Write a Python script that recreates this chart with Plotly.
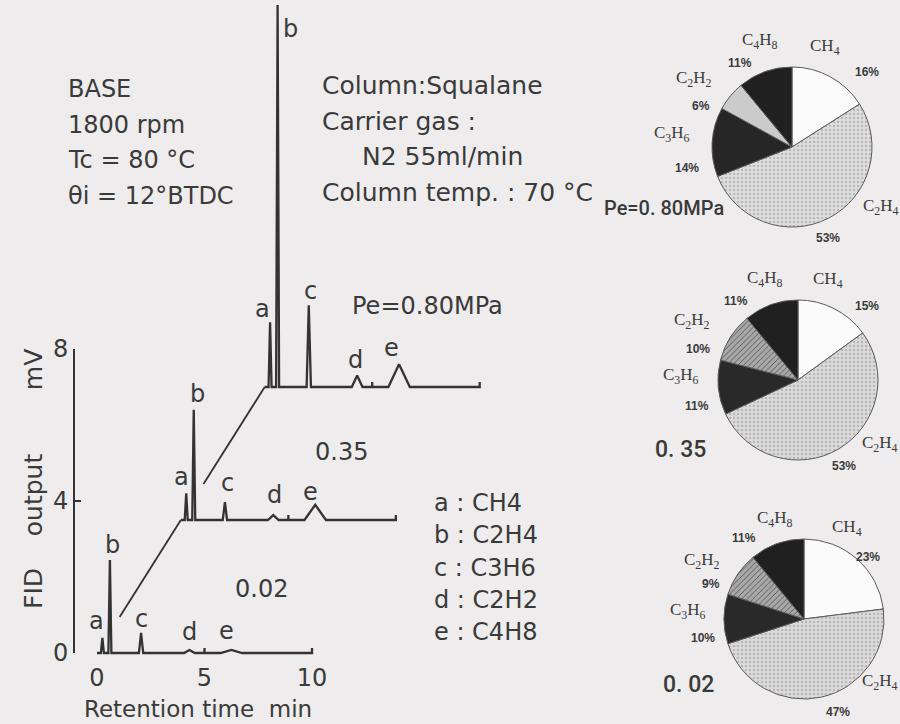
import re
import plotly.graph_objects as go

W, H = 900, 724

# ------------------------------------------------------------------ data
peak_names = ["a", "b", "c", "d", "e"]
peak_components = ["CH4", "C2H4", "C3H6", "C2H2", "C4H8"]
peak_times = [0.25, 0.6, 2.05, 4.3, 6.25]          # retention time, min
peak_halfwidths = [0.07, 0.07, 0.1, 0.25, 0.5]     # min
pressure_labels = ["0.02", "0.35", "Pe=0.80MPa"]
heights_002 = [0.4, 2.45, 0.53, 0.08, 0.08]        # FID output, mV
heights_035 = [0.7, 2.9, 0.47, 0.13, 0.4]
heights_080 = [1.7, 10.05, 2.15, 0.3, 0.6]
time_ticks = [0, 5, 10]
fid_ticks = [0, 4, 8]
baseline_marks = [5, 10]
run_end = 10

pie_labels = ["CH4", "C2H4", "C3H6", "C2H2", "C4H8"]
pie_080 = [16, 53, 14, 6, 11]
pie_035 = [15, 53, 11, 10, 11]
pie_002 = [23, 47, 10, 9, 11]
pie_titles = ["Pe=0. 80MPa", "0. 35", "0. 02"]

info_left = ["BASE", "1800 rpm", "Tc = 80 °C", "θi = 12°BTDC"]
info_right = ["Column:Squalane", "Carrier gas :", "N2 55ml/min", "Column temp. : 70 °C"]

# ------------------------------------------------------------------ layout constants
X0_PX, PX_PER_MIN = 97, 21.5
Y0_PX, PX_PER_MV = 653, 38.0
AX_LEFT_PX, AX_RIGHT_PX = 75, 640
DX, DY = 3.9, 3.5           # offset between stacked chromatograms (min, mV)
CONNECT_FRAC = 0.27         # visible part of the diagonal connectors
MARK_H = 0.13               # height of the small baseline marks (mV)
INK = "#333333"
TXT = "#3a3a3a"
BG = "#eeecec"
FONT = "DejaVu Sans"

def P(x, y):
    return x / W, 1 - y / H

def ptext(px_, py_, text, size, family=FONT, xanchor="center", weight=None, **kw):
    x, y = P(px_, py_)
    font = dict(family=family, size=size, color=TXT)
    if weight:
        font["weight"] = weight
    d = dict(x=x, y=y, xref="paper", yref="paper", text=text, showarrow=False,
             xanchor=xanchor, yanchor="middle", font=font)
    d.update(kw)
    return d

fig = go.Figure()

levels = [heights_002, heights_035, heights_080]
for i, heights in enumerate(levels):
    ox, oy = i * DX, i * DY
    events = []
    for t, w, h in zip(peak_times, peak_halfwidths, heights):
        events.append((t - w, [(t - w, 0), (t, h), (t + w, 0)]))
    for m in baseline_marks:
        events.append((m, [(m, 0), (m, MARK_H), (m, 0)] if m != run_end else [(m, 0), (m, MARK_H)]))
    events.sort(key=lambda e: e[0])
    xs, ys = [0 + ox], [0 + oy]
    for _, pts in events:
        for px_, py_ in pts:
            xs.append(px_ + ox)
            ys.append(py_ + oy)
    fig.add_trace(go.Scatter(x=xs, y=ys, mode="lines", line=dict(color=INK, width=2.3),
                             hoverinfo="skip", showlegend=False, xaxis="x", yaxis="y"))
    if i > 0:
        x1, y1 = ox, oy
        x0, y0 = (i - 1) * DX + CONNECT_FRAC * DX, (i - 1) * DY + CONNECT_FRAC * DY
        fig.add_trace(go.Scatter(x=[x0, x1], y=[y0, y1], mode="lines",
                                 line=dict(color=INK, width=1.8), hoverinfo="skip",
                                 showlegend=False, xaxis="x", yaxis="y"))

# placeholder so that the displayed FID axis exists
fig.add_trace(go.Scatter(x=[time_ticks[0]], y=[fid_ticks[0]], mode="markers",
                         marker=dict(opacity=0), hoverinfo="skip", showlegend=False,
                         xaxis="x", yaxis="y2"))

annotations = []

# peak letters (pixel shifts relative to each peak top)
LABEL_SHIFT = [
    [(-6, 17), (3, 15), (0, 14), (0, 18), (-5, 19)],
    [(-5, 16), (4, 16), (3, 19), (1, 20), (-5, 13)],
    [(-8, 13), (13, -24), (2, 14), (-2, 16), (-8, 16)],
]
for i, heights in enumerate(levels):
    for k, (name, t, h) in enumerate(zip(peak_names, peak_times, heights)):
        sx, sy = LABEL_SHIFT[i][k]
        annotations.append(dict(x=t + i * DX, y=h + i * DY, xref="x", yref="y", text=name,
                                showarrow=False, xshift=sx, yshift=sy,
                                xanchor="center", yanchor="middle",
                                font=dict(family=FONT, size=24, color=TXT)))

# pressure labels on chromatograms
for txt, pos in zip(pressure_labels, [(261, 589), (341, 452), (427, 306)]):
    annotations.append(ptext(*pos, txt, 24))

# peak legend
for k, (name, comp) in enumerate(zip(peak_names, peak_components)):
    annotations.append(ptext(432, 503 + 32.3 * k, f"{name} : {comp}", 24, xanchor="left"))

# info blocks
for k, s in enumerate(info_left):
    annotations.append(ptext(66, 89 + 35.7 * k, s, 24, xanchor="left"))
for k, s in enumerate(info_right):
    annotations.append(ptext(360 if k == 2 else 320, 86 + 35.5 * k, s, 25, xanchor="left"))

# axis titles
NB = "\u00a0"
annotations.append(ptext(33, 479, f"FID{NB*4}output{NB*8}mV", 25, textangle=-90))
annotations.append(ptext(198, 709, f"Retention time{NB*2}min", 23))

# ------------------------------------------------------------------ pies
PIE_R = 80
pie_centers = [(792, 147), (798, 380), (804, 619)]
pie_values = [pie_080, pie_035, pie_002]
pie_colors = [
    ["#fbfbfb", "#dcdcdc", "#262626", "#cbcbcb", "#202020"],
    ["#fbfbfb", "#d9d9d9", "#292929", "#a8a8a8", "#202020"],
    ["#fbfbfb", "#d9d9d9", "#292929", "#a8a8a8", "#202020"],
]
pie_shapes = [["", ".", "", "", ""], ["", ".", "", "/", ""], ["", ".", "", "/", ""]]
for vals, (cx, cy), cols, shp in zip(pie_values, pie_centers, pie_colors, pie_shapes):
    fg = ["#ababab" if s == "." else "#4a4a4a" for s in shp]
    fig.add_trace(go.Pie(
        values=vals, labels=pie_labels, sort=False, direction="clockwise", rotation=0,
        textinfo="none", hoverinfo="label+percent", showlegend=False,
        domain=dict(x=[(cx - PIE_R) / W, (cx + PIE_R) / W],
                    y=[1 - (cy + PIE_R) / H, 1 - (cy - PIE_R) / H]),
        marker=dict(colors=cols, line=dict(color="#5a5a5a", width=1),
                    pattern=dict(shape=shp, fgcolor=fg, bgcolor=cols, size=4, solidity=0.2)),
    ))

def chem(s):
    return re.sub(r"(\d)", r"<sub>\1</sub>", s)

# label pixel positions for (CH4, C2H4, C3H6, C2H2, C4H8) names and percents
pie_name_pos = [
    [(825, 47), (881, 207), (672, 134), (694, 79), (760, 41)],
    [(828, 280), (880, 444), (681, 376), (692, 321), (765, 279)],
    [(847, 528), (880, 682), (688, 611), (702, 561), (775, 519)],
]
pie_pct_pos = [
    [(867, 72), (828, 238), (687, 168), (701, 106), (740, 63)],
    [(867, 306), (844, 466), (697, 406), (698, 349), (736, 301)],
    [(868, 557), (838, 712), (703, 638), (711, 584), (744, 538)],
]
pie_title_pos = [(664, 208), (680, 449), (688, 684)]
pie_title_size = [20, 23, 23]
for p in range(3):
    for k, lab in enumerate(pie_labels):
        annotations.append(ptext(*pie_name_pos[p][k], chem(lab), 17, family="Liberation Serif"))
        annotations.append(ptext(*pie_pct_pos[p][k], f"<b>{pie_values[p][k]}%</b>", 12,
                                 family="Liberation Sans"))
    annotations.append(ptext(*pie_title_pos[p], pie_titles[p], pie_title_size[p],
                             family="Roboto", weight=500))

# ------------------------------------------------------------------ axes
x_range = [(AX_LEFT_PX - X0_PX) / PX_PER_MIN, (AX_RIGHT_PX - X0_PX) / PX_PER_MIN]
y_range = [(Y0_PX - H) / PX_PER_MV, Y0_PX / PX_PER_MV]
y2_top_px = Y0_PX - fid_ticks[-1] * PX_PER_MV

fig.update_layout(
    width=W, height=H, margin=dict(l=0, r=0, t=0, b=0),
    paper_bgcolor=BG, plot_bgcolor="rgba(0,0,0,0)",
    showlegend=False,
    xaxis=dict(domain=[AX_LEFT_PX / W, AX_RIGHT_PX / W], range=x_range, anchor="y2",
               tickvals=time_ticks, ticktext=[str(v) for v in time_ticks], ticks="",
               showline=False, showgrid=False, zeroline=False, automargin=False,
               ticklabelstandoff=8,
               tickfont=dict(family=FONT, size=24, color=TXT), fixedrange=True),
    yaxis=dict(domain=[0, 1], range=y_range, visible=False, showgrid=False,
               zeroline=False, fixedrange=True),
    yaxis2=dict(domain=[(H - Y0_PX) / H, (H - y2_top_px) / H], range=[fid_ticks[0], fid_ticks[-1]],
                anchor="x", tickvals=fid_ticks, ticks="inside", ticklen=6, tickwidth=2,
                tickcolor=INK, showline=True, linecolor=INK, linewidth=2,
                showgrid=False, zeroline=False, automargin=False,
                tickfont=dict(family=FONT, size=24, color=TXT), fixedrange=True),
    annotations=annotations,
)

fig.write_html("out.html")
